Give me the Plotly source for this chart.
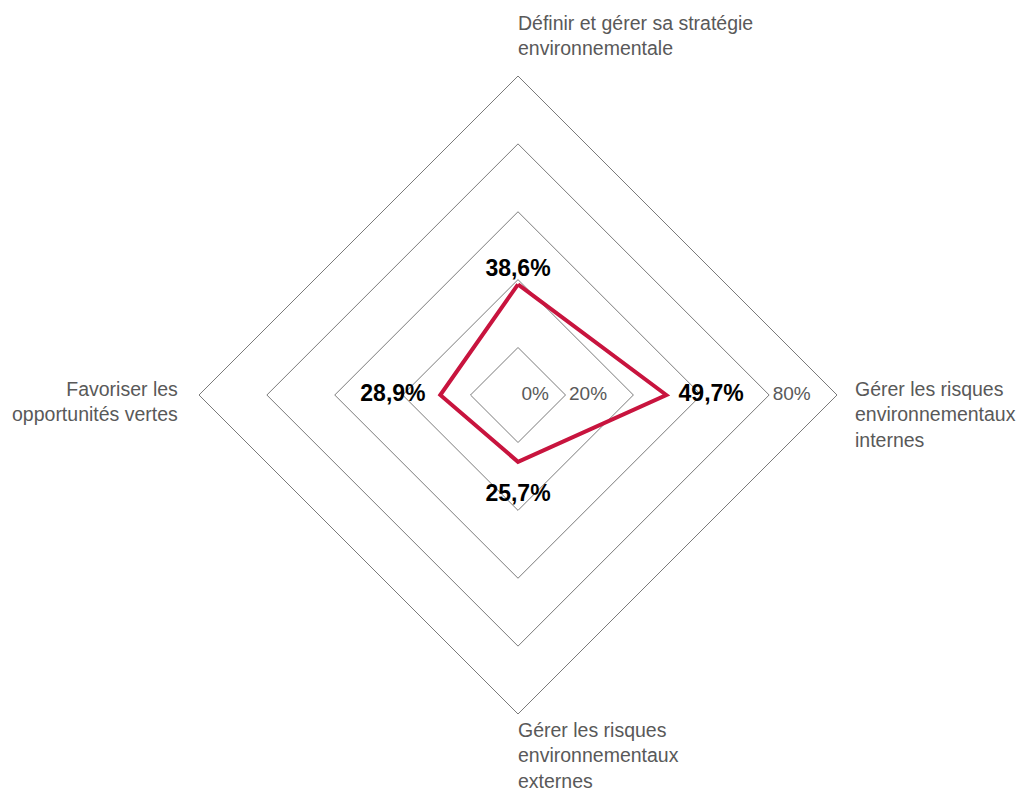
import plotly.graph_objects as go

# Four pillars of the environmental strategy, clockwise from the top
categories = [
    "Définir et gérer sa stratégie environnementale",
    "Gérer les risques environnementaux internes",
    "Gérer les risques environnementaux externes",
    "Favoriser les opportunités vertes",
]
# Category captions as they are wrapped around the chart
category_captions = [
    "Définir et gérer sa stratégie<br>environnementale",
    "Gérer les risques<br>environnementaux<br>internes",
    "Gérer les risques<br>environnementaux<br>externes",
    "Favoriser les<br>opportunités vertes",
]
values = [38.6, 49.7, 25.7, 28.9]
value_labels = ["38,6%", "49,7%", "25,7%", "28,9%"]

grid_values = [20, 40, 60, 80, 100]
tick_values = [0, 20, 80]
tick_labels = ["0%", "20%", "80%"]

R_MIN, R_MAX = 6, 100
GREY = "#595959"
LINE = "#7a7a7a"
RED = "#C8143E"
FONT = "Liberation Sans, Arial, sans-serif"
CLEAR = "rgba(0,0,0,0)"

fig = go.Figure()

# Closed polygon of the scores
fig.add_trace(go.Scatterpolar(
    r=values + values[:1],
    theta=categories + categories[:1],
    mode="lines",
    line=dict(color=RED, width=4),
    hoverinfo="skip",
    showlegend=False,
))

# Bold value labels next to each vertex; invisible markers set the gap
fig.add_trace(go.Scatterpolar(
    r=values,
    theta=categories,
    mode="markers+text",
    marker=dict(size=[2, 18, 34, 22], color=CLEAR, line=dict(width=0, color=CLEAR)),
    text=value_labels,
    textposition=["top center", "middle right", "bottom center", "middle left"],
    textfont=dict(family=FONT, size=23, color="#000000", weight="bold"),
    cliponaxis=False,
    hoverinfo="skip",
    showlegend=False,
))

# Radial scale labels along the right-hand spoke
fig.add_trace(go.Scatterpolar(
    r=[max(v, R_MIN + 0.01) for v in tick_values],
    theta=[categories[1]] * len(tick_values),
    mode="markers+text",
    marker=dict(size=4, color=CLEAR, line=dict(width=0, color=CLEAR)),
    text=tick_labels,
    textposition="middle right",
    textfont=dict(family=FONT, size=19, color=GREY),
    cliponaxis=False,
    hoverinfo="skip",
    showlegend=False,
))

cx, cy, rad = 518, 395, 319
W, H = 1023, 794

fig.update_layout(
    width=W,
    height=H,
    margin=dict(l=0, r=0, t=0, b=0),
    paper_bgcolor="white",
    plot_bgcolor="white",
    showlegend=False,
    polar=dict(
        domain=dict(
            x=[(cx - rad) / W, (cx + rad) / W],
            y=[(H - cy - rad) / H, (H - cy + rad) / H],
        ),
        bgcolor="white",
        gridshape="linear",
        angularaxis=dict(
            rotation=90,
            direction="clockwise",
            showticklabels=False,
            ticks="",
            showgrid=False,
            showline=True,
            linecolor=LINE,
            linewidth=1,
        ),
        radialaxis=dict(
            range=[R_MIN, R_MAX],
            tickvals=grid_values,
            showticklabels=False,
            ticks="",
            showline=False,
            gridcolor=LINE,
            gridwidth=1,
        ),
    ),
)

# Category captions placed around the diamond
caption_pos = [
    dict(x=516, y=36, xanchor="left", align="left"),
    dict(x=853, y=414, xanchor="left", align="left"),
    dict(x=516, y=755, xanchor="left", align="left"),
    dict(x=180, y=401, xanchor="right", align="right"),
]
for caption, pos in zip(category_captions, caption_pos):
    fig.add_annotation(
        text=caption,
        x=pos["x"] / W,
        y=1 - pos["y"] / H,
        xref="paper",
        yref="paper",
        xanchor=pos["xanchor"],
        yanchor="middle",
        align=pos["align"],
        showarrow=False,
        font=dict(family=FONT, size=19.5, color=GREY),
    )

fig.write_html("out.html")
